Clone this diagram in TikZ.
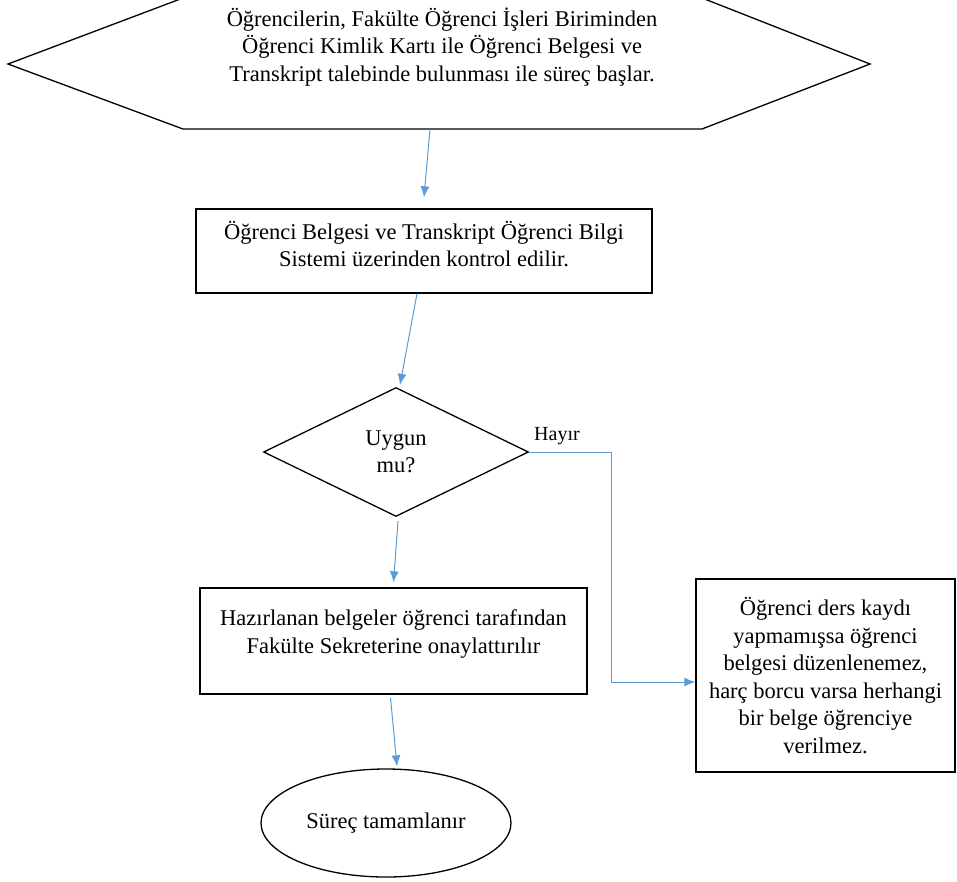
\documentclass[tikz,border=0pt]{standalone}
\usepackage{fontspec}
\setmainfont{Liberation Serif}
\usepackage{xcolor}
\usetikzlibrary{shapes.geometric,arrows.meta,positioning}
\definecolor{akis}{RGB}{91,155,213}
\tikzset{>={Latex[length=11pt,width=9pt]}}

\begin{document}
\begin{tikzpicture}[x=1pt,y=-1pt]
  \tikzstyle{every node}=[font=\fontsize{22.5pt}{27.5pt}\selectfont, align=center, inner sep=0pt]
  \tikzstyle{kutu}=[rectangle, draw=black, line width=1.3pt]
  \tikzstyle{karar}=[diamond, draw=black, line width=1.3pt, minimum width=265pt, minimum height=129pt]
  \tikzstyle{akisok}=[->, akis, line width=1pt]
  \useasboundingbox (0,0) rectangle (957,881);

  % baslangic altigeni
  \draw[line width=1.3pt] (183,-2) -- (702,-2) -- (870,64) -- (702,129) -- (183,129) -- (8,64) -- cycle;
  \node (basla) at (442,47) {Öğrencilerin, Fakülte Öğrenci İşleri Biriminden\\
    Öğrenci Kimlik Kartı ile Öğrenci Belgesi ve\\
    Transkript talebinde bulunması ile süreç başlar.};
  \coordinate (baslaAlt) at (430,129);

  \node[kutu, minimum width=456pt, minimum height=84pt] (kontrol) at (424,251) {};
  \node (kontrolYazi) at ([yshift=7pt]kontrol) {Öğrenci Belgesi ve Transkript Öğrenci Bilgi\\
    Sistemi üzerinden kontrol edilir.};

  \node[karar] (uygun) at (396,452) {Uygun\\mu?};

  \node[kutu, minimum width=387pt, minimum height=106pt] (hazir) at (393.5,641) {};
  \node (hazirYazi) at ([yshift=7pt]hazir) {Hazırlanan belgeler öğrenci tarafından\\
    Fakülte Sekreterine onaylattırılır};

  \node[kutu, minimum width=259pt, minimum height=193pt] (uyari) at (825.5,675.5) {Öğrenci ders kaydı\\
    yapmamışsa öğrenci\\ belgesi düzenlenemez,\\ harç borcu varsa herhangi\\
    bir belge öğrenciye\\ verilmez.};

  \node[ellipse, draw=black, line width=1.3pt, minimum width=250pt, minimum height=108pt] (son) at (386,823) {Süreç tamamlanır};

  \node[font=\fontsize{20pt}{24pt}\selectfont] (hayir) at (557,436) {Hayır};
  \coordinate (kose) at (611,682);

  % akis oklari
  \draw[akisok] (baslaAlt) -- ([yshift=11pt]kontrol.north);
  \draw[akisok] ([xshift=-7pt]kontrol.south) -- ([xshift=4pt,yshift=2pt]uygun.north);
  \draw[akisok] ([xshift=2pt,yshift=-4pt]uygun.south) -- ([yshift=5pt]hazir.north);
  \draw[akisok] ([xshift=-3pt,yshift=-3pt]hazir.south) -- ([xshift=11pt,yshift=2pt]son.north);
  \draw[akisok] (uygun.east) -| (kose) -- (uyari.west |- kose);
\end{tikzpicture}
\end{document}
